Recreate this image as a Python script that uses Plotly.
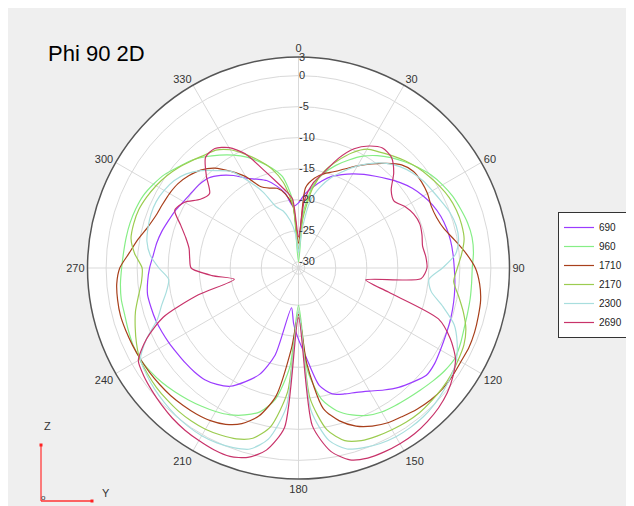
import plotly.graph_objects as go

# ---------------- data ----------------
theta_deg = list(range(0, 360, 5))
angle_ticks = [0, 30, 60, 90, 120, 150, 180, 210, 240, 270, 300, 330]
radial_ticks = [-30, -25, -20, -15, -10, -5, 0, 3]
series_names = ["690", "960", "1710", "2170", "2300", "2690"]

gain_690 = [-20.5, -19.0, -17.8, -16.5, -15.3, -14.4, -13.5, -12.6, -11.7, -10.7, -9.6, -8.6,
            -7.8, -7.1, -6.6, -6.3, -6.1, -6.0, -5.9, -5.7, -5.5, -5.3, -5.1, -4.9,
            -4.6, -4.2, -4.1, -5.0, -5.9, -7.0, -8.1, -8.9, -9.4, -10.0, -11.8, -16.5,
            -19.5, -22.0, -24.5, -16.5, -12.8, -10.8, -9.0, -8.1, -7.5, -7.3, -7.2, -7.1,
            -6.9, -6.7, -6.5, -6.4, -6.3, -6.6, -7.0, -7.5, -7.8, -8.2, -8.7, -9.1,
            -9.6, -9.9, -10.1, -10.5, -11.5, -12.8, -14.3, -15.2, -16.0, -17.3, -18.8, -21.0]

gain_960 = [-30.0, -22.0, -17.5, -15.2, -13.4, -11.8, -10.2, -8.9, -7.8, -6.8, -5.8, -4.9,
            -4.2, -3.6, -3.2, -2.8, -2.6, -2.7, -3.0, -3.0, -2.9, -2.8, -2.6, -2.2,
            -1.9, -2.2, -2.7, -3.2, -3.6, -3.9, -4.2, -4.8, -5.8, -7.2, -9.5, -14.5,
            -25.0, -15.0, -9.5, -7.0, -5.8, -4.9, -4.3, -3.8, -3.3, -2.8, -2.3, -1.9,
            -1.6, -1.6, -1.8, -2.0, -2.0, -2.2, -2.5, -2.7, -2.8, -2.9, -3.1, -3.4,
            -4.0, -4.7, -5.7, -6.5, -7.6, -8.8, -10.0, -11.3, -12.8, -14.3, -16.0, -20.0]

gain_1710 = [-27.0, -18.0, -16.3, -15.3, -14.5, -13.4, -12.0, -10.5, -9.0, -7.5, -6.8, -6.8,
             -7.0, -7.4, -7.3, -6.7, -5.4, -3.9, -2.5, -1.7, -1.2, -1.0, -0.8, -0.7,
             -0.8, -0.7, -0.7, -0.9, -1.3, -1.8, -2.2, -2.9, -3.9, -5.5, -8.0, -15.5,
             -23.5, -18.0, -10.0, -6.3, -4.3, -3.2, -2.6, -2.3, -2.1, -1.9, -1.8, -1.7,
             -1.6, -1.5, -1.4, -1.3, -1.4, -1.6, -2.2, -3.6, -4.7, -5.8, -6.5, -6.8,
             -7.0, -7.3, -7.9, -8.7, -10.0, -12.0, -14.0, -16.5, -17.3, -17.7, -18.9, -21.0]

gain_2170 = [-28.0, -23.0, -18.0, -14.8, -12.6, -10.5, -8.9, -8.2, -7.4, -6.6, -5.9, -5.3,
             -4.7, -4.2, -3.9, -3.8, -3.9, -4.6, -5.4, -5.9, -4.8, -3.5, -2.3, -1.6,
             -1.3, -1.0, -0.8, -0.7, -0.6, -0.7, -0.9, -1.1, -1.4, -2.2, -4.5, -10.0,
             -24.0, -11.0, -5.0, -2.6, -1.7, -1.3, -1.0, -0.9, -0.9, -1.0, -1.1, -1.3,
             -1.5, -2.2, -3.0, -3.8, -4.8, -5.6, -5.8, -4.5, -3.6, -3.5, -3.6, -4.0,
             -4.5, -5.1, -5.8, -6.6, -7.3, -7.8, -9.0, -10.8, -12.6, -14.5, -17.0, -21.0]

gain_2300 = [-28.5, -25.0, -20.0, -17.5, -15.5, -13.8, -12.0, -10.4, -9.0, -7.9, -7.1, -6.5,
             -6.1, -5.6, -5.0, -4.7, -4.8, -5.6, -7.8, -9.9, -9.3, -6.9, -4.3, -2.8,
             -1.6, -0.9, -0.4, 0.0, 0.3, 0.4, 0.4, 0.2, -0.2, -0.8, -2.8, -8.0,
             -24.0, -8.5, -3.0, -0.8, -0.2, 0.1, 0.2, 0.1, -0.1, -0.4, -0.7, -1.1,
             -1.6, -4.0, -6.8, -8.2, -9.4, -10.0, -8.5, -7.0, -6.2, -5.9, -5.7, -5.7,
             -6.0, -6.5, -7.4, -8.8, -10.5, -12.0, -14.8, -17.5, -20.5, -21.5, -23.2, -25.5]

gain_2690 = [-26.0, -20.0, -17.0, -15.0, -12.2, -9.8, -8.3, -7.4, -7.7, -9.3, -11.5, -12.2,
             -11.2, -10.5, -10.2, -10.4, -10.7, -10.4, -10.3, -11.2, -20.0, -16.0, -7.0, -4.0,
             -1.8, -0.6, 0.3, 0.9, 1.3, 1.6, 1.7, 1.7, 1.6, 1.0, -1.0, -5.5,
             -23.0, -5.2, -1.2, 0.6, 1.3, 1.3, 1.1, 0.9, 0.6, 0.2, -0.2, -0.6,
             -1.2, -4.0, -7.8, -14.3, -20.5, -17.0, -13.7, -13.4, -13.1, -12.2, -10.8, -9.0,
             -9.8, -11.7, -12.3, -10.0, -7.7, -7.5, -8.6, -10.7, -14.0, -16.4, -18.2, -19.8]

series_gains = [gain_690, gain_960, gain_1710, gain_2170, gain_2300, gain_2690]
series_colors = ["#9b3cff", "#86ee86", "#a8401c", "#9ccc50", "#a8dede", "#c8336a"]

for g in series_gains:
    assert len(g) == len(theta_deg), len(g)

# ---------------- figure ----------------
W, H = 634, 506
cx, cy, R = 290.5, 260.0, 211.0

fig = go.Figure()
for name, gains, color in zip(series_names, series_gains, series_colors):
    fig.add_trace(go.Scatterpolar(
        r=gains + [gains[0]],
        theta=theta_deg + [theta_deg[0]],
        mode="lines",
        name=name,
        line=dict(color=color, width=1.2, shape="spline", smoothing=0.7),
    ))

fig.update_layout(
    width=W, height=H,
    margin=dict(l=0, r=0, t=0, b=0),
    paper_bgcolor="#efefef",
    font=dict(family="Liberation Sans, Arial, sans-serif", size=11, color="#333333"),
    polar=dict(
        domain=dict(x=[(cx - R) / W, (cx + R) / W],
                    y=[1 - (cy + R) / H, 1 - (cy - R) / H]),
        bgcolor="white",
        angularaxis=dict(
            direction="clockwise", rotation=90,
            tickmode="array", tickvals=angle_ticks,
            ticktext=[str(a) for a in angle_ticks],
            showline=True, linecolor="#555555", linewidth=1.5,
            gridcolor="#d9d9d9", gridwidth=1, ticks="",
            tickfont=dict(size=11, color="#333333"),
        ),
        radialaxis=dict(
            range=[-31, 3], tickmode="array", tickvals=radial_ticks,
            ticktext=[str(v) for v in radial_ticks],
            angle=90, tickangle=90, showline=False, ticks="",
            gridcolor="#d9d9d9", gridwidth=1,
            tickfont=dict(size=11, color="#333333"),
        ),
    ),
    legend=dict(
        x=550 / W, xanchor="left", y=1 - 204 / H, yanchor="top",
        bgcolor="white", bordercolor="#333333", borderwidth=1,
        font=dict(size=10, color="#222222"), itemwidth=30,
        tracegroupgap=0,
    ),
    showlegend=True,
)

# Title
fig.add_annotation(text="Phi 90 2D", xref="paper", yref="paper",
                   x=38 / W, y=1 - 45 / H, xanchor="left", yanchor="middle",
                   showarrow=False, font=dict(size=22, color="#000000",
                                              family="Liberation Sans, Arial, sans-serif"))

# Axis indicator (bottom-left)
ox, oy = 33, 493
fig.add_shape(type="line", xref="paper", yref="paper",
              x0=ox / W, y0=1 - oy / H, x1=ox / W, y1=1 - 437 / H,
              line=dict(color="#ff5555", width=1.5))
fig.add_shape(type="line", xref="paper", yref="paper",
              x0=ox / W, y0=1 - oy / H, x1=84 / W, y1=1 - oy / H,
              line=dict(color="#ff3333", width=1.5))
for (px, py) in [(33, 437), (84, 493)]:
    fig.add_shape(type="rect", xref="paper", yref="paper",
                  x0=(px - 1.5) / W, x1=(px + 1.5) / W,
                  y0=1 - (py + 1.5) / H, y1=1 - (py - 1.5) / H,
                  line=dict(width=0), fillcolor="#ff2222")
fig.add_annotation(text="Z", xref="paper", yref="paper", x=34 / W, y=1 - 426 / H,
                   showarrow=False, font=dict(size=11, color="#333333"))
fig.add_annotation(text="Y", xref="paper", yref="paper", x=92 / W, y=1 - 493 / H,
                   showarrow=False, font=dict(size=11, color="#333333"))
fig.add_annotation(text="o", xref="paper", yref="paper", x=31 / W, y=1 - 496 / H,
                   showarrow=False, font=dict(size=8, color="#333333"))

fig.write_html("out.html")
